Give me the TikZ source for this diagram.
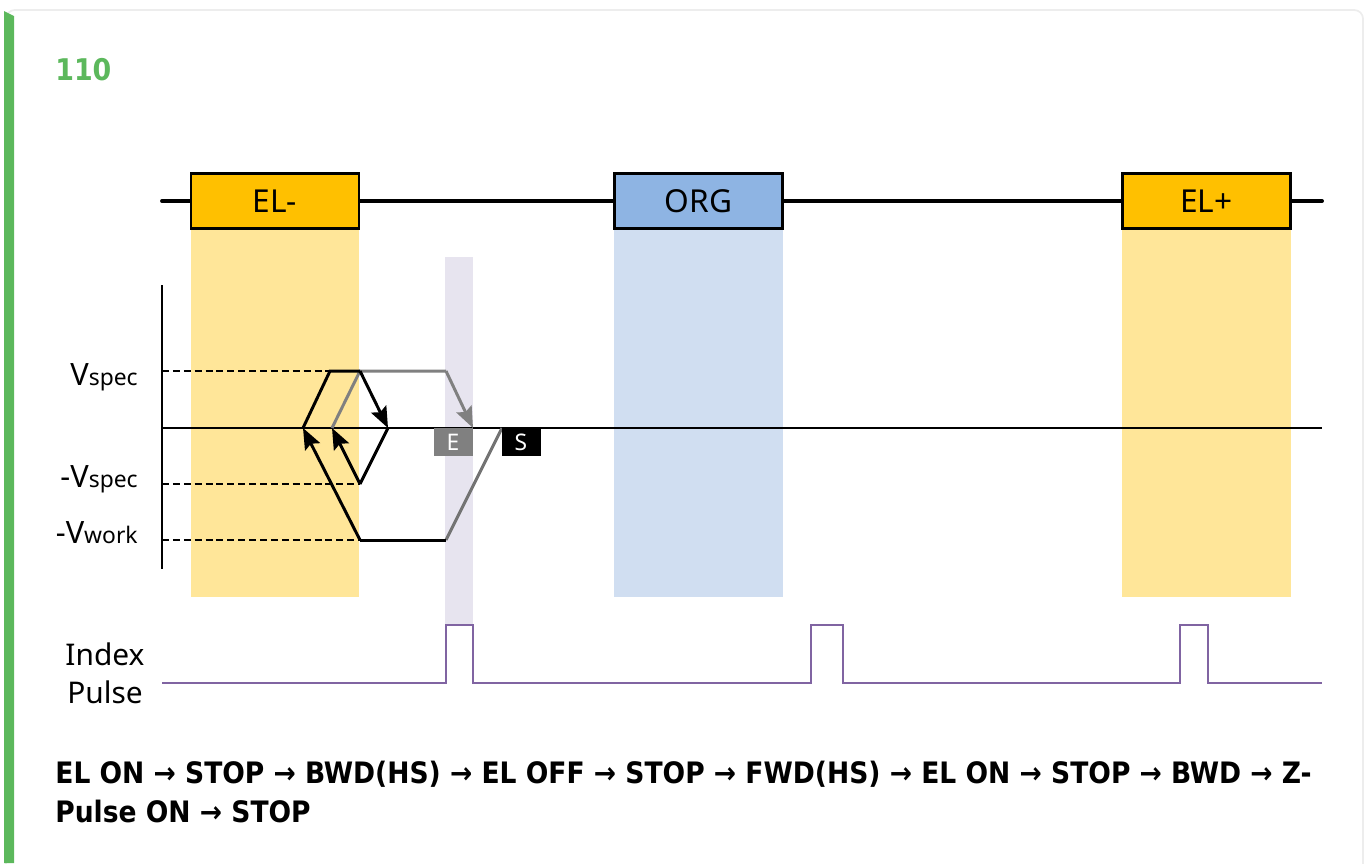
\documentclass[tikz,border=0pt]{standalone}
\usepackage{fontspec}
\setmainfont{Noto Sans}
\newfontfamily\notefont{DejaVu Sans Condensed}
\usetikzlibrary{arrows.meta}
\definecolor{elfill}{HTML}{FFC000}
\definecolor{elshade}{HTML}{FFE699}
\definecolor{orgfill}{HTML}{8EB4E3}
\definecolor{orgshade}{HTML}{D0DEF1}
\definecolor{zshade}{HTML}{E7E4EF}
\definecolor{pulsecol}{HTML}{8064A2}
\definecolor{cardgreen}{HTML}{5CB85C}
\tikzstyle{sensor}=[draw,line width=1.2pt,minimum width=3.36cm,minimum height=1.1cm,inner sep=0pt,font=\fontsize{18}{20}\selectfont]
\tikzstyle{rail}=[line width=2.2pt,line cap=round]
\tikzstyle{level}=[line width=1.2pt,dash pattern=on 4pt off 2.2pt]
\tikzstyle{prof}=[line width=1.7pt,>={Stealth[length=12pt,width=9.5pt,inset=2pt]}]
\tikzstyle{tag}=[fill,text=white,inner sep=0pt,minimum width=0.78cm,minimum height=0.56cm,font=\bfseries\fontsize{13}{13}\selectfont]
\tikzstyle{lvl}=[anchor=base east,inner sep=0pt,font=\fontsize{17.5}{20}\selectfont]
\tikzstyle{seq}=[anchor=base west,inner sep=0pt,font=\notefont\bfseries\fontsize{16.8}{18}\selectfont]
\newcommand{\sub}[1]{{\fontsize{13}{14}\selectfont #1}}

\begin{document}
\begin{tikzpicture}[x=0.02cm,y=-0.02cm]
\useasboundingbox (0,0) rectangle (1368,863);
% card
\draw[black!7,line width=1pt,rounded corners=5pt] (6,10) rectangle (1363,880);
\fill[cardgreen] (4,11) -- (14,16) -- (14,863) -- (4,863) -- cycle;
\node[anchor=base west,inner sep=0pt,text=cardgreen,font=\notefont\bfseries\fontsize{17}{20}\selectfont] (num) at (55,80) {110};
% shaded zones
\fill[elshade] (191,228) rectangle (359,597);
\fill[orgshade] (614,228) rectangle (783,597);
\fill[elshade] (1122,228) rectangle (1291,597);
\fill[zshade] (445,257) rectangle (473,625);
% sensors on the rail
\node[sensor,fill=elfill] (ELm) at (275,201) {EL-};
\node[sensor,fill=orgfill] (ORG) at (698.5,201) {ORG};
\node[sensor,fill=elfill] (ELp) at (1206.5,201) {EL+};
\coordinate (R0) at (162,201);
\coordinate (R1) at (1322,201);
\draw[rail] (R0) -- (ELm.west);
\draw[rail] (ELm.east) -- (ORG.west);
\draw[rail] (ORG.east) -- (ELp.west);
\draw[rail] (ELp.east) -- (R1);
% axes
\coordinate (Atop) at (162,285);
\coordinate (Abot) at (162,569);
\coordinate (Z0) at (162,428);
\coordinate (Zend) at (1322,428);
\draw[line width=1.6pt] (Atop) -- (Abot);
\draw[line width=1.3pt] (Z0) -- (Zend);
\node[lvl] (Vs) at (138,385) {V\sub{spec}};
\node[lvl] (Vns) at (138,487) {-V\sub{spec}};
\node[lvl] (Vnw) at (138,543) {-V\sub{work}};
% profile points
\coordinate (z0) at (303,428);
\coordinate (s1) at (330,371);
\coordinate (s2) at (360,371);
\coordinate (z1) at (388,428);
\coordinate (n1) at (360,484);
\coordinate (z2) at (332,428);
\coordinate (w1) at (360,540);
\coordinate (w2) at (446,540);
\coordinate (z3) at (502,428);
\coordinate (s3) at (446,371);
\coordinate (z4) at (473,428);
\draw[level] (162,371) -- (s1);
\draw[level] (162,484) -- (n1);
\draw[level] (162,540) -- (w1);
\draw[prof,black!55] (w2) -- (z3);
\draw[prof,black!50] (z2) -- (s2) -- (s3);
\draw[prof,black!50,->] (s3) -- (z4);
\draw[prof] (z0) -- (s1) -- (s2);
\draw[prof,->] (s2) -- (z1);
\draw[prof] (z1) -- (n1);
\draw[prof,->] (n1) -- (z2);
\draw[prof,->] (w1) -- (z0);
\draw[prof] (w1) -- (w2);
\node[tag,fill=black!50] (E) at (453,442) {E};
\node[tag,fill=black] (S) at (521,442) {S};
% index pulse
\node[align=center,inner sep=0pt,font=\fontsize{17}{21.5}\selectfont] (IP) at (105,673) {Index\\Pulse};
\draw[pulsecol,line width=1.3pt] (162,683) -- (446,683) |- (473,625) |- (811,683) |- (843,625) |- (1180,683) |- (1208,625) |- (1322,683);
% sequence
\node[seq] (L1) at (55,783) {EL ON → STOP → BWD(HS) → EL OFF → STOP → FWD(HS) → EL ON → STOP → BWD → Z-};
\node[seq] (L2) at (55,822) {Pulse ON → STOP};
\end{tikzpicture}
\end{document}
